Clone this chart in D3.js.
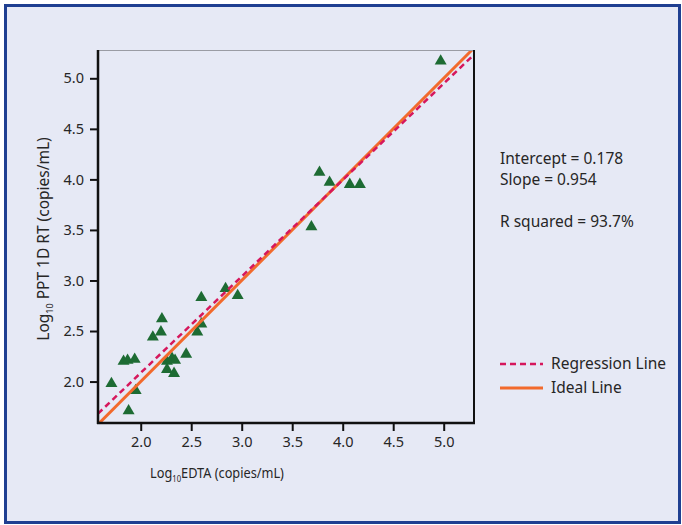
<!DOCTYPE html>
<html>
<head>
<meta charset="utf-8">
<script src="https://cdn.jsdelivr.net/npm/d3@7"></script>
<style>
  html, body { margin: 0; padding: 0; background: #ffffff; }
  svg { display: block; font-family: "Noto Sans", "Open Sans", sans-serif; }
</style>
</head>
<body>
<div id="chart"></div>
<script>
// Log10 EDTA vs Log10 PPT 1D RT (copies/mL)
const edta = [1.71, 1.83, 1.87, 1.94, 1.95, 1.88, 2.21, 2.20, 2.12, 2.26, 2.31, 2.34, 2.26, 2.33,
  2.45, 2.56, 2.60, 2.60, 2.84, 2.96, 3.69, 3.77, 3.87, 4.07, 4.17, 4.97];
const ppt = [1.98, 2.20, 2.21, 2.22, 1.91, 1.71, 2.62, 2.49, 2.44, 2.20, 2.23, 2.21, 2.12, 2.08,
  2.27, 2.49, 2.57, 2.83, 2.92, 2.85, 3.53, 4.07, 3.97, 3.95, 3.95, 5.17];
const tickValues = [2.0, 2.5, 3.0, 3.5, 4.0, 4.5, 5.0];
const intercept = 0.178;
const slope = 0.954;
const statLines = ['Intercept = 0.178', 'Slope = 0.954', '', 'R squared = 93.7%'];
const legendItems = ['Regression Line', 'Ideal Line'];

const width = 682, height = 525;
const plot = { left: 98, right: 474, top: 50, bottom: 423 };
const textColor = '#262626';

const svg = d3.select('#chart')
  .append('svg')
  .attr('width', width)
  .attr('height', height);

// panel background + frame
svg.append('rect')
  .attr('x', 5.5).attr('y', 5.5)
  .attr('width', 674).attr('height', 517)
  .attr('fill', '#e6e9f5')
  .attr('stroke', '#1f3f91')
  .attr('stroke-width', 3);

const x = d3.scaleLinear().domain([1.577, 5.30]).range([plot.left, plot.right]);
const y = d3.scaleLinear().domain([1.59, 5.28]).range([plot.bottom, plot.top]);

svg.append('defs').append('clipPath').attr('id', 'clip')
  .append('rect')
  .attr('x', plot.left).attr('y', plot.top)
  .attr('width', plot.right - plot.left).attr('height', plot.bottom - plot.top);

// points
svg.append('g')
  .selectAll('path')
  .data(edta)
  .join('path')
  .attr('transform', (d, i) => `translate(${x(d)},${y(ppt[i])})`)
  .attr('d', d3.symbol(d3.symbolTriangle, 62))
  .attr('fill', '#1d6b33');

// lines
const xs = x.domain();
const lines = svg.append('g').attr('clip-path', 'url(#clip)');
lines.append('line')
  .attr('x1', x(xs[0])).attr('y1', y(xs[0]))
  .attr('x2', x(xs[1])).attr('y2', y(xs[1]))
  .attr('stroke', '#f26a2c')
  .attr('stroke-width', 3);
lines.append('line')
  .attr('x1', x(xs[0])).attr('y1', y(intercept + slope * xs[0]))
  .attr('x2', x(xs[1])).attr('y2', y(intercept + slope * xs[1]))
  .attr('stroke', '#d6175c')
  .attr('stroke-width', 2.5)
  .attr('stroke-dasharray', '6,4');

// frame of plot
svg.append('line')
  .attr('x1', plot.left).attr('x2', plot.right)
  .attr('y1', plot.top + 0.5).attr('y2', plot.top + 0.5)
  .attr('stroke', '#9a9ca4').attr('stroke-width', 1);
svg.append('line')
  .attr('x1', plot.right).attr('x2', plot.right)
  .attr('y1', plot.top).attr('y2', plot.bottom)
  .attr('stroke', '#111').attr('stroke-width', 2);

// axes
const xAxis = svg.append('g')
  .attr('transform', `translate(0,${plot.bottom})`)
  .call(d3.axisBottom(x).tickValues(tickValues).tickFormat(d3.format('.1f')).tickSizeOuter(0).tickSize(8).tickPadding(6));
const yAxis = svg.append('g')
  .attr('transform', `translate(${plot.left},0)`)
  .call(d3.axisLeft(y).tickValues(tickValues).tickFormat(d3.format('.1f')).tickSizeOuter(0).tickSize(8).tickPadding(6));

[xAxis, yAxis].forEach(a => {
  a.select('.domain').attr('stroke', '#111').attr('stroke-width', 2.5);
  a.selectAll('.tick line').attr('stroke', '#111').attr('stroke-width', 2);
  a.selectAll('.tick text')
    .attr('fill', textColor)
    .style('font-size', '14.5px')
    .style('font-family', '"Noto Sans", sans-serif');
});
xAxis.select('.domain').attr('d', `M${plot.left - 1},0H${plot.right + 1}`);
yAxis.select('.domain').attr('d', `M0,${plot.top}V${plot.bottom + 1}`);

// axis titles (x title is set in a narrow face in the original, so squeeze it)
const xTitle = svg.append('text')
  .attr('transform', 'translate(217,478) scale(0.85,1)')
  .attr('text-anchor', 'middle')
  .attr('fill', textColor)
  .style('font-size', '15px');
xTitle.append('tspan').text('Log');
xTitle.append('tspan').attr('dy', 4).style('font-size', '9px').text('10');
xTitle.append('tspan').attr('dy', -4).text('EDTA (copies/mL)');

const yTitle = svg.append('text')
  .attr('transform', 'translate(49,239) rotate(-90)')
  .attr('text-anchor', 'middle')
  .attr('fill', textColor)
  .style('font-size', '15.5px');
yTitle.append('tspan').text('Log');
yTitle.append('tspan').attr('dy', 4).style('font-size', '9px').text('10');
yTitle.append('tspan').attr('dy', -4).text(' PPT 1D RT (copies/mL)');

// stats
svg.append('g')
  .selectAll('text')
  .data(statLines)
  .join('text')
  .attr('x', 500)
  .attr('y', (d, i) => 164 + i * 21)
  .attr('fill', textColor)
  .style('font-size', '15.5px')
  .text(d => d);

// legend
const legend = svg.append('g');
legendItems.forEach((name, i) => {
  const ly = 364 + i * 24;
  legend.append('line')
    .attr('x1', 500).attr('x2', 543)
    .attr('y1', ly).attr('y2', ly)
    .attr('stroke', i === 0 ? '#d6175c' : '#f26a2c')
    .attr('stroke-width', i === 0 ? 2.5 : 3)
    .attr('stroke-dasharray', i === 0 ? '6,4' : null);
  legend.append('text')
    .attr('x', 551).attr('y', ly + 5)
    .attr('fill', textColor)
    .style('font-size', '15.5px')
    .text(name);
});
</script>
</body>
</html>
